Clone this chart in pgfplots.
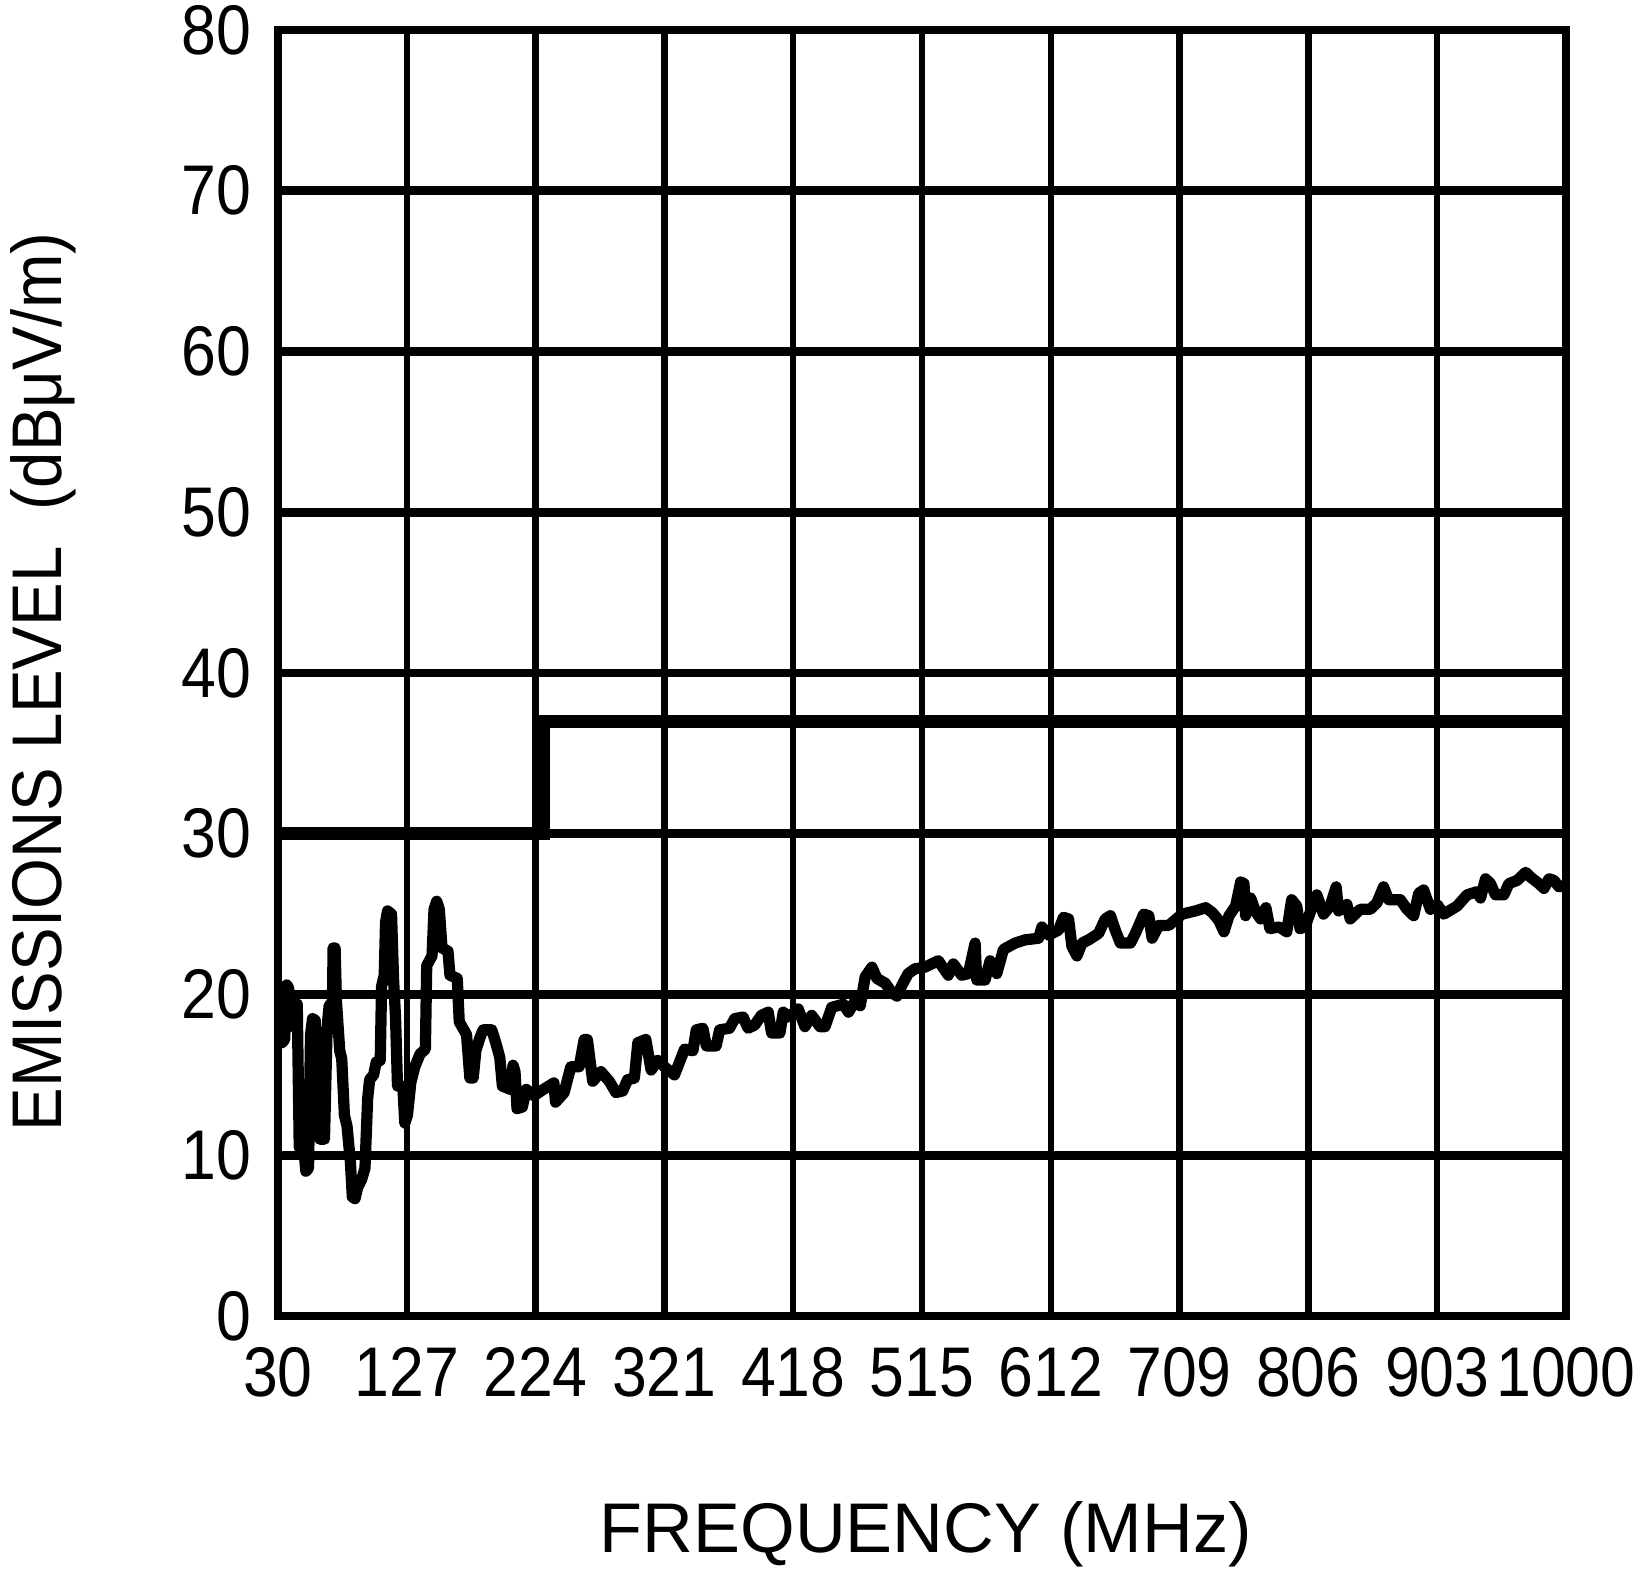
\documentclass[border=0pt]{standalone}
\usepackage{fontspec}
\setmainfont{Liberation Sans}
\newfontfamily\tickfont{Liberation Sans}[FakeStretch=0.89]
\newfontfamily\ylabfont{Liberation Sans}[FakeStretch=0.93]
\usepackage{pgfplots}
\pgfplotsset{compat=1.18}
\usetikzlibrary{calc}
\begin{document}
\begin{tikzpicture}
\begin{axis}[
  name=ax,
  width=12.88cm, height=12.86cm, scale only axis,
  xmin=30, xmax=1000, ymin=0, ymax=80,
  xtick={30,127,224,321,418,515,612,709,806,903,1000},
  xticklabels={30,127,224,321,418,515,612,709,806,903,1000},
  ytick={0,10,20,30,40,50,60,70,80},
  yticklabels={0,10,20,30,40,50,60,70,80},
  major tick length=0pt,
  grid=major,
  major x grid style={line width=1.8pt, black},
  major y grid style={line width=2.5pt, black},
  axis line style={line width=2.3pt, black},
  xticklabel style={font=\tickfont\fontsize{20}{24}\selectfont, anchor=north, inner sep=0pt, yshift=-0.31cm},
  yticklabel style={font=\tickfont\fontsize{20}{24}\selectfont, anchor=east, inner sep=0pt, xshift=-0.26cm},
  xlabel={FREQUENCY (MHz)},
  ylabel={EMISSIONS LEVEL~~(dBμV/m)},
  xlabel style={at={(axis description cs:0.503,-0.1439)}, anchor=north, inner sep=0pt, font=\fontsize{20}{24}\selectfont},
  ylabel style={at={(axis description cs:-0.208,0.493)}, anchor=north, inner sep=0pt, font=\ylabfont\fontsize{20}{24}\selectfont},
]
\addplot[black, line width=3.7pt] coordinates {(30,30) (230,30) (230,37) (1000,37)};
\addplot[black, line width=3.2pt, line join=round, line cap=round] coordinates {
(30,18.7) (31.5,18.6) (33,17.0) (35,17.2) (36.6,20.6) (38,20.4) (39,18.0) (41.6,19.5) (44.5,19.4)
(46,10.5) (49,10.8) (51,9.0) (53,9.2) (54.5,17.5) (56,18.5) (58,18.4) (60,13.0) (61.5,11.0) (65,11.0)
(67,18.0) (68.5,19.3) (71,19.5) (71.5,22.9) (73,22.9) (74,19.6) (76.5,16.5) (78,16.0) (80,12.5)
(82,11.8) (84.5,9.6) (86,7.4) (88,7.3) (90,8.0) (93,8.5) (95.5,9.2) (97.5,13.5) (99,14.7) (102,15.0)
(104,15.8) (107,15.9) (108,20.5) (110,21.2) (111,24.5) (112.5,25.2) (115.5,25.0) (117,21) (118.5,18.6)
(120,14.3) (124,14.3) (125.5,12.0) (127.5,12.5) (130,14.5) (133,15.5) (137,16.3) (141,16.6) (142,21.8)
(146,22.4) (147.5,25.3) (149.5,25.8) (151.5,25.3) (153.5,22.9) (158,22.7) (159.5,21.2) (165,21.0)
(166.5,18.3) (172,17.5) (174.5,14.8) (177,14.8) (179,16.5) (182,17.3) (184.5,17.8) (191,17.8) (194,17.0)
(197,16.1) (199,14.3) (205,14.1) (207,15.6) (208.5,15.2) (210,12.9) (214,13.0) (217,14.1) (222.7,13.7)
(230,14.1) (237.8,14.5) (239,13.3) (245.5,13.9) (250.5,15.5) (256.8,15.5) (260.6,17.2) (263,17.2)
(267,14.6) (273.2,15.2) (279.5,14.6) (284.5,13.9) (289.6,14.0) (293.3,14.7) (298.4,14.8) (301,17.0)
(307,17.2) (311,15.3) (316,15.9) (321,15.5) (328.6,15.0) (336.2,16.6) (342.5,16.5) (345,17.8) (350,17.9)
(352.6,16.8) (360,16.8) (362.6,17.8) (370,17.9) (374,18.5) (380.3,18.6) (384,17.9) (389,18.1) (394,18.7)
(399.2,18.9) (401.7,17.6) (408,17.6) (410.5,18.9) (414.3,18.6) (421.8,19.1) (426.8,18.0) (431.9,18.7)
(438.2,18.0) (442,18.0) (447,19.2) (455.8,19.4) (459.6,18.9) (464.7,19.6) (468.5,19.3) (472.2,21.1)
(477.3,21.7) (481,21.0) (487.4,20.7) (492.4,20.1) (496.2,19.9) (500,20.6) (504.6,21.3) (509.7,21.6)
(517.2,21.7) (522.2,21.9) (527.3,22.1) (534.8,21.2) (538.6,21.9) (544.9,21.2) (549.9,21.3) (555,23.2)
(556.2,20.9) (562.5,20.9) (566.3,22.1) (571.3,21.3) (576.3,22.8) (585.1,23.2) (592.7,23.4) (602.8,23.5)
(605.3,24.2) (610.3,23.7) (617.8,24.0) (621.6,24.8) (625.4,24.7) (627.9,23.0) (631.7,22.4) (635.5,23.2)
(640.5,23.4) (648,23.8) (653,24.7) (656.9,24.9) (660.6,24.0) (664.4,23.2) (672,23.2) (675.7,23.8)
(682,25.0) (685.8,24.9) (688.3,23.5) (693.3,24.3) (700.9,24.3) (710.9,25.0) (721,25.2) (728.6,25.4)
(733.6,25.1) (738.6,24.6) (742.4,23.9) (746.2,24.9) (751.2,25.5) (755,27.0) (757.5,26.9) (758.7,24.9)
(762.5,26.0) (766,25.2) (770,24.7) (774,25.4) (777,24.1) (784,24.2) (789.7,23.9) (793.4,25.9) (797.2,25.5)
(799.7,24.1) (803.5,24.2) (807.3,25.1) (812.3,26.2) (817.4,25.0) (822.4,25.5) (826.9,26.7) (828.7,25.2)
(835,25.6) (837.5,24.7) (845,25.3) (852.6,25.3) (857.6,25.7) (862.6,26.7) (866.4,25.9) (875.2,25.9)
(880.3,25.3) (885.3,24.9) (889.1,26.3) (892.8,26.5) (897.9,25.3) (902.9,25.6) (907.9,25.0) (918,25.5)
(925.5,26.2) (933.1,26.4) (935.6,26.0) (939.4,27.2) (943.1,26.9) (946.9,26.2) (953.2,26.2) (957,26.9)
(963.3,27.1) (969.6,27.6) (973.3,27.3) (979.6,26.9) (983.4,26.6) (987.2,27.2) (990.9,27.1) (994.7,26.7)
(1000,26.8)
};
\end{axis}
\pgfresetboundingbox
\path ($(ax.south west)+(-2.78cm,-2.59cm)$) rectangle ($(ax.north east)+(0.79cm,0.30cm)$);
\end{tikzpicture}
\end{document}
